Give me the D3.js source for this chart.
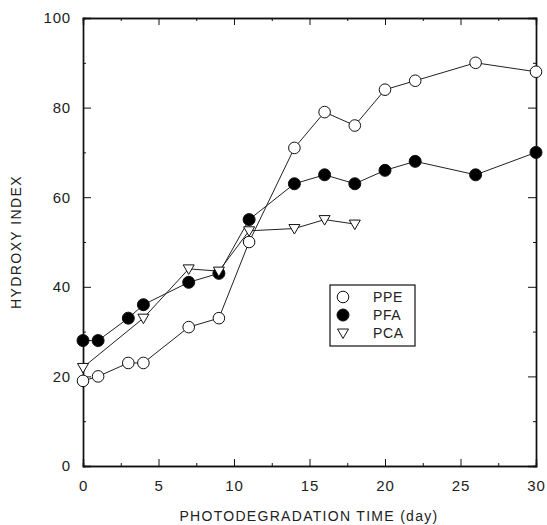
<!DOCTYPE html>
<html>
<head>
<meta charset="utf-8">
<script src="https://cdn.jsdelivr.net/npm/d3@7"></script>
<style>
  body { margin: 0; background: #fff; }
  text { font-family: "Liberation Sans", Arial, sans-serif; fill: #222; }
</style>
</head>
<body>
<svg id="chart" width="547" height="525"></svg>
<script>
// values
let ppeDays = [0, 1, 3, 4, 7, 9, 11, 14, 16, 18, 20, 22, 26, 30];
let ppeValues = [19, 20, 23, 23, 31, 33, 50, 71, 79, 76, 84, 86, 90, 88];
let pfaDays = [0, 1, 3, 4, 7, 9, 11, 14, 16, 18, 20, 22, 26, 30];
let pfaValues = [28, 28, 33, 36, 41, 43, 55, 63, 65, 63, 66, 68, 65, 70];
let pcaDays = [0, 4, 7, 9, 11, 14, 16, 18];
let pcaValues = [22, 33, 44, 43.5, 52.5, 53, 55, 54];
let seriesNames = ["PPE", "PFA", "PCA"];
let xTicks = [0, 5, 10, 15, 20, 25, 30];
let yTicks = [0, 20, 40, 60, 80, 100];

let svg = d3.select("#chart");
let xScale = d3.scaleLinear().domain([0, 30]).range([83, 536]);
let yScale = d3.scaleLinear().domain([0, 100]).range([466, 18]);

let zip = (xs, ys) => xs.map((d, i) => ({ x: d, y: ys[i] }));
let series = [
  { name: seriesNames[0], pts: zip(ppeDays, ppeValues), shape: "open" },
  { name: seriesNames[1], pts: zip(pfaDays, pfaValues), shape: "filled" },
  { name: seriesNames[2], pts: zip(pcaDays, pcaValues), shape: "tri" }
];

// frame, with ticks pointing inward on all four sides
let axisColor = "#111";
let bottom = d3.axisBottom(xScale).tickValues(xTicks).tickSize(-7).tickPadding(14);
let bottomMinor = d3.axisBottom(xScale).tickValues(d3.range(2.5, 30, 5)).tickSize(-3).tickFormat("");
let topAx = d3.axisTop(xScale).tickValues(xTicks).tickSize(-7).tickFormat("");
let topMinor = d3.axisTop(xScale).tickValues(d3.range(2.5, 30, 5)).tickSize(-3).tickFormat("");
let left = d3.axisLeft(yScale).tickValues(yTicks).tickSize(-8).tickPadding(12);
let leftMinor = d3.axisLeft(yScale).tickValues(d3.range(10, 100, 20)).tickSize(-3).tickFormat("");
let rightAx = d3.axisRight(yScale).tickValues(yTicks).tickSize(-8).tickFormat("");
let rightMinor = d3.axisRight(yScale).tickValues(d3.range(10, 100, 20)).tickSize(-3).tickFormat("");

function drawAxis(axis, transform) {
  let g = svg.append("g").attr("transform", transform).call(axis);
  g.select(".domain").attr("stroke", axisColor).attr("stroke-width", 1.4);
  g.selectAll(".tick line").attr("stroke", axisColor).attr("stroke-width", 1);
  g.selectAll(".tick text")
    .style("font-family", '"Liberation Sans", Arial, sans-serif')
    .attr("font-size", 15).attr("letter-spacing", 0.8).attr("fill", "#2a2a2a");
  return g;
}
drawAxis(bottom, "translate(0,466)");
drawAxis(bottomMinor, "translate(0,466)");
drawAxis(topAx, "translate(0,18)");
drawAxis(topMinor, "translate(0,18)");
drawAxis(left, "translate(83,0)");
drawAxis(leftMinor, "translate(83,0)");
drawAxis(rightAx, "translate(536,0)");
drawAxis(rightMinor, "translate(536,0)");

// axis titles
svg.append("text")
  .attr("x", 309).attr("y", 521)
  .attr("text-anchor", "middle")
  .attr("font-size", 14)
  .attr("letter-spacing", 1.3)
  .attr("fill", "#2a2a2a")
  .text("PHOTODEGRADATION TIME (day)");
svg.append("text")
  .attr("transform", "translate(21,242) rotate(-90)")
  .attr("text-anchor", "middle")
  .attr("font-size", 14)
  .attr("letter-spacing", 1.4)
  .attr("fill", "#2a2a2a")
  .text("HYDROXY INDEX");

// lines
let lineGen = d3.line()
  .x(d => xScale(d.x))
  .y(d => yScale(d.y));

series.forEach(s => {
  svg.append("path")
    .datum(s.pts)
    .attr("fill", "none")
    .attr("stroke", "#222")
    .attr("stroke-width", 1)
    .attr("d", lineGen);
});

// markers
let triPath = "M-5.5,-4 L5.5,-4 L0,5.5 Z";
function marker(g, shape) {
  if (shape === "tri") {
    g.append("path").attr("d", triPath)
      .attr("fill", "#fff").attr("stroke", "#111").attr("stroke-width", 1);
  } else {
    g.append("circle").attr("r", shape === "filled" ? 6 : 5.8)
      .attr("fill", shape === "filled" ? "#000" : "#fff")
      .attr("stroke", "#111").attr("stroke-width", 1);
  }
}

series.forEach(s => {
  svg.append("g").selectAll("g")
    .data(s.pts)
    .join("g")
    .attr("transform", d => `translate(${xScale(d.x)},${yScale(d.y)})`)
    .each(function () { marker(d3.select(this), s.shape); });
});

// legend
let legend = svg.append("g").attr("transform", "translate(330,285)");
legend.append("rect")
  .attr("width", 85).attr("height", 61)
  .attr("fill", "#fff").attr("stroke", "#111").attr("stroke-width", 1.2);
series.forEach((s, i) => {
  let row = legend.append("g").attr("transform", `translate(13,${12 + i * 18})`);
  marker(row, s.shape);
  row.append("text")
    .attr("x", 30).attr("y", 5)
    .attr("font-size", 14)
    .attr("letter-spacing", 0.6)
    .attr("fill", "#2a2a2a")
    .text(s.name);
});
</script>
</body>
</html>
